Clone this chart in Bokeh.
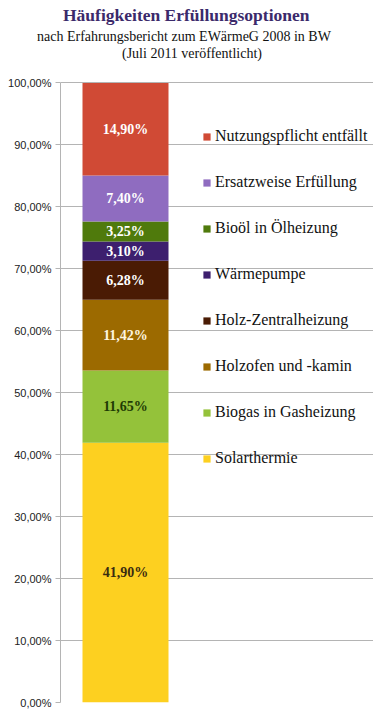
from bokeh.plotting import figure
from bokeh.models import (ColumnDataSource, FixedTicker, LabelSet, Legend,
                          LegendItem, Range1d, Title)
from bokeh.core.properties import value
from bokeh.embed import file_html
from bokeh.resources import INLINE

# ---- data (bottom of stack first) ----
categories = ["Solarthermie", "Biogas in Gasheizung", "Holzofen und -kamin",
              "Holz-Zentralheizung", "Wärmepumpe", "Bioöl in Ölheizung",
              "Ersatzweise Erfüllung", "Nutzungspflicht entfällt"]
shares = [41.90, 11.65, 11.42, 6.28, 3.10, 3.25, 7.40, 14.90]
colors = ["#fdd020", "#94c23a", "#9c6a00", "#4a1b04", "#3d1f6e", "#4f7a0c",
          "#8f6cc0", "#d04a35"]
label_colors = ["#3a2c10", "#1f3b05", "#fff6e0", "white", "white", "white",
                "white", "white"]
y_ticks = [0, 10, 20, 30, 40, 50, 60, 70, 80, 90, 100]
y_tick_labels = ["0,00%", "10,00%", "20,00%", "30,00%", "40,00%", "50,00%",
                 "60,00%", "70,00%", "80,00%", "90,00%", "100,00%"]
title = "Häufigkeiten Erfüllungsoptionen"
subtitle1 = "nach Erfahrungsbericht zum EWärmeG 2008 in BW"
subtitle2 = "(Juli 2011 veröffentlicht)"

SERIF = "Liberation Serif"

PX_PER_PCT = 6.2
FRAME_W, FRAME_H = 313, 642
UNIT_PX = 130  # pixels of one x unit (plot area width of the bar column)
FRAME_LEFT = 60

p = figure(frame_width=FRAME_W, frame_height=FRAME_H,
           x_range=Range1d(0, FRAME_W / UNIT_PX),
           y_range=Range1d(0, FRAME_H / PX_PER_PCT),
           output_backend="svg", toolbar_location=None,
           min_border_left=FRAME_LEFT, min_border_top=60, min_border_right=0,
           min_border_bottom=8)
p.outline_line_color = None
p.background_fill_color = "white"

src = ColumnDataSource({"x": [0.5], **{c: [v] for c, v in zip(categories, shares)}})
renderers = p.vbar_stack(categories, x="x", width=86 / UNIT_PX, color=colors,
                         line_color=None, source=src)

# segment labels
bottoms, acc = [], 0.0
for v in shares:
    bottoms.append(acc)
    acc += v
mids = [b + v / 2 for b, v in zip(bottoms, shares)]
texts = [f"{v:.2f}".replace(".", ",") + "%" for v in shares]
lsrc = ColumnDataSource({"x": [0.5] * len(shares), "y": mids, "t": texts,
                         "c": label_colors})
p.add_layout(LabelSet(x="x", y="y", text="t", text_color="c", source=lsrc,
                      text_align="center", text_baseline="middle",
                      text_font=value(SERIF), text_font_style="bold",
                      text_font_size="14px"))

# axes & grid
grid_col = "#b4b4b4"
p.ygrid.ticker = FixedTicker(ticks=y_ticks)
p.ygrid.grid_line_color = grid_col
p.ygrid.bounds = (0, 1)
p.xgrid.visible = False
p.xaxis.visible = False

p.yaxis.ticker = FixedTicker(ticks=y_ticks)
p.yaxis.bounds = (0, 100)
p.yaxis.major_label_overrides = {t: l for t, l in zip(y_ticks, y_tick_labels)}
p.yaxis.axis_line_color = grid_col
p.yaxis.major_tick_line_color = grid_col
p.yaxis.major_tick_out = 5
p.yaxis.major_tick_in = 0
p.yaxis.minor_tick_line_color = None
p.yaxis.major_label_standoff = 4
p.yaxis.major_label_text_font = "Liberation Sans"
p.yaxis.major_label_text_font_size = "11px"
p.yaxis.major_label_text_color = "#222222"

# legend (top of stack first)
items = [LegendItem(label=c, renderers=[r])
         for c, r in reversed(list(zip(categories, renderers)))]
legend = Legend(items=items, location=(142, 235), padding=0, margin=0,
                border_line_color=None, background_fill_alpha=0,
                glyph_width=9, glyph_height=9, label_height=9,
                label_standoff=4, spacing=28,
                label_text_font=SERIF, label_text_font_size="16px",
                label_text_color="#111111")
p.add_layout(legend)

# titles (added nearest-to-plot first)
p.add_layout(Title(text=subtitle2, align="left", offset=61.5,
                   text_font=SERIF, text_font_style="normal",
                   text_font_size="14px", text_color="#111111", standoff=0),
             "above")
p.add_layout(Title(text=subtitle1, align="left", offset=-23.5,
                   text_font=SERIF, text_font_style="normal",
                   text_font_size="14px", text_color="#111111", standoff=0),
             "above")
p.add_layout(Title(text=title, align="left", offset=2.5,
                   text_font=SERIF, text_font_style="bold",
                   text_font_size="17.5px", text_color="#3b2a6b", standoff=3.5),
             "above")

open("out.html", "w").write(file_html(p, INLINE))
